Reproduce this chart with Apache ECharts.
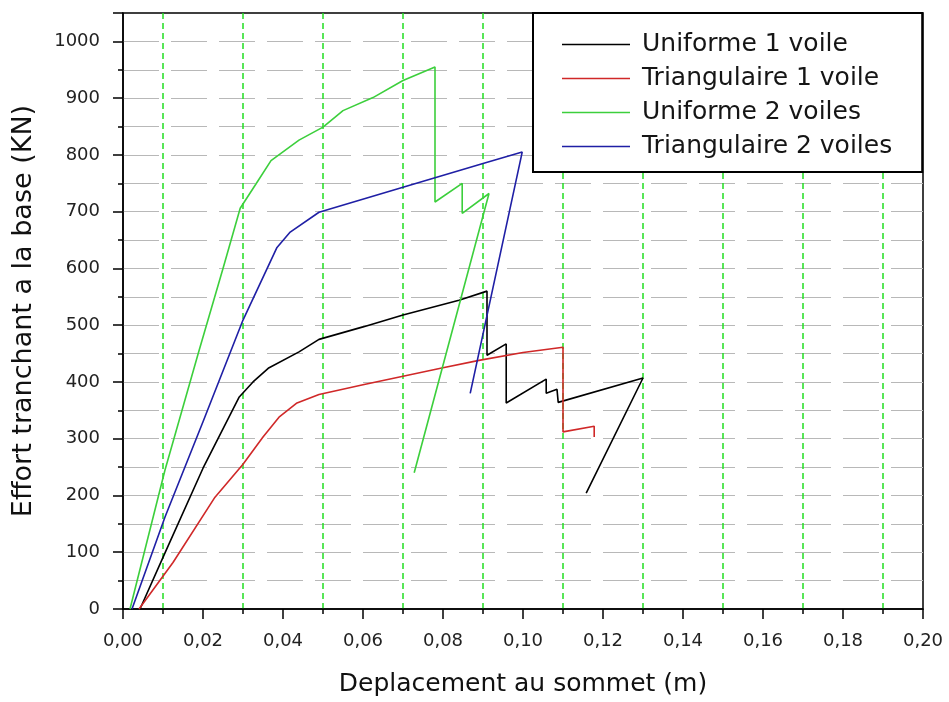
<!DOCTYPE html>
<html>
<head>
<meta charset="utf-8">
<script src="https://cdn.jsdelivr.net/npm/echarts@6/dist/echarts.min.js"></script>
<style>
  html, body { margin: 0; padding: 0; background: #fff; }
  #chart { width: 949px; height: 702px; }
</style>
</head>
<body>
<div id="chart"></div>
<script>
// Pushover curves: base shear (kN) against top displacement (m)
const seriesNames = ['Uniforme 1 voile', 'Triangulaire 1 voile', 'Uniforme 2 voiles', 'Triangulaire 2 voiles'];
const seriesColors = ['#000000', '#d02828', '#3ccf3c', '#1f1fa5'];

const uniforme1Disp  = [0.00425, 0.0105, 0.020, 0.029, 0.0325, 0.0363, 0.044, 0.049, 0.060, 0.070, 0.084, 0.091, 0.091, 0.0958, 0.0958, 0.1058, 0.1058, 0.1085, 0.1088, 0.130, 0.1158];
const uniforme1Force = [0,       99,     248,   373,   400,    424,    453,   475,   497,   518,   544,   560,   447,   467,    363,    405,    380,    387,    364,    407,   204];

const triangulaire1Disp  = [0.004, 0.0125, 0.023, 0.030, 0.035, 0.039, 0.0435, 0.049, 0.060, 0.070, 0.080, 0.089, 0.100, 0.110, 0.110, 0.1178, 0.1178];
const triangulaire1Force = [0,     82,     197,   255,   303,   338,   363,    378,   395,   410,   425,   438,   452,   461,   312,   322,    303];

const uniforme2Disp  = [0.00175, 0.0105, 0.019, 0.025, 0.0293, 0.0338, 0.037, 0.044, 0.050, 0.055, 0.0625, 0.070, 0.078, 0.078, 0.0848, 0.0848, 0.0915, 0.0728];
const uniforme2Force = [0,       245,    455,   600,   706,    755,    790,   826,   849,   878,   901,    931,   955,   717,   750,    697,    732,    240];

const triangulaire2Disp  = [0.00225, 0.0105, 0.020, 0.030, 0.0385, 0.0418, 0.049, 0.070, 0.090, 0.0998, 0.0868];
const triangulaire2Force = [0,       162,    330,   509,   637,    664,    699,   743,   785,   805,    380];

const xTickStep = 0.02;
const yTickStep = 100;

const FONT = 'DejaVu Sans';

function pairs(xs, ys) {
  return xs.map((x, i) => [x, ys[i]]);
}

const curves = [
  pairs(uniforme1Disp, uniforme1Force),
  pairs(triangulaire1Disp, triangulaire1Force),
  pairs(uniforme2Disp, uniforme2Force),
  pairs(triangulaire2Disp, triangulaire2Force)
];

const chart = echarts.init(document.getElementById('chart'), null, { renderer: 'canvas' });

const option = {
  backgroundColor: '#ffffff',
  animation: false,
  grid: {
    left: 123, right: 26, top: 13, bottom: 92,
    show: true, borderColor: '#000', borderWidth: 1.5, backgroundColor: 'transparent'
  },
  legend: {
    data: seriesNames,
    orient: 'vertical',
    left: 533, top: 13,
    icon: 'rect',
    itemWidth: 68, itemHeight: 1.5,
    itemGap: 9,
    padding: [19, 30, 13, 29],
    backgroundColor: '#ffffff',
    borderColor: '#000',
    borderWidth: 2,
    textStyle: { fontFamily: FONT, fontSize: 25, color: '#151515', lineHeight: 24, padding: [0, 0, 0, 7] },
    z: 10
  },
  xAxis: {
    type: 'value',
    min: 0, max: 0.2, interval: xTickStep,
    name: 'Deplacement au sommet (m)',
    nameLocation: 'middle',
    nameGap: 63,
    nameTextStyle: { fontFamily: FONT, fontSize: 25, color: '#111' },
    axisLine: { show: true, onZero: false, lineStyle: { color: '#000', width: 1.5 } },
    axisTick: { show: true, inside: false, length: 10, lineStyle: { color: '#000', width: 1.5 } },
    minorTick: { show: true, splitNumber: 2, length: 5, lineStyle: { color: '#000', width: 1.5 } },
    axisLabel: {
      margin: 23,
      fontFamily: FONT, fontSize: 18, color: '#222',
      formatter: v => v.toFixed(2).replace('.', ',')
    },
    splitLine: { show: false },
    minorSplitLine: { show: true, lineStyle: { color: '#22dd22', width: 1.5, type: [6, 4] } }
  },
  yAxis: [
    {
      type: 'value',
      min: 0, max: 1050, interval: 50,
      name: 'Effort tranchant a la base (KN)',
      nameLocation: 'middle',
      nameGap: 86,
      nameTextStyle: { fontFamily: FONT, fontSize: 27, color: '#111' },
      axisLine: { show: true, onZero: false, lineStyle: { color: '#000', width: 1.5 } },
      axisTick: { show: true, inside: false, length: 5, lineStyle: { color: '#000', width: 1.5 } },
      axisLabel: {
        margin: 23,
        fontFamily: FONT, fontSize: 18, color: '#222',
        formatter: v => (v % yTickStep === 0 && v <= 1000) ? String(v) : ''
      },
      splitLine: {
        show: true, showMinLine: false, showMaxLine: false,
        lineStyle: { color: '#b8b8b8', width: 1.2, type: [36, 12] }
      }
    },
    {
      // longer ticks at every labelled value
      type: 'value',
      position: 'left',
      min: 0, max: 1050, interval: yTickStep,
      axisLine: { show: false },
      axisTick: { show: true, inside: false, length: 10, lineStyle: { color: '#000', width: 1.5 } },
      axisLabel: { show: false },
      splitLine: { show: false }
    }
  ],
  series: curves.map((data, i) => ({
    name: seriesNames[i],
    type: 'line',
    data: data,
    showSymbol: false,
    symbol: 'none',
    clip: false,
    lineStyle: { color: seriesColors[i], width: 1.6 },
    itemStyle: { color: seriesColors[i] },
    z: 3
  }))
};

chart.setOption(option);
</script>
</body>
</html>
